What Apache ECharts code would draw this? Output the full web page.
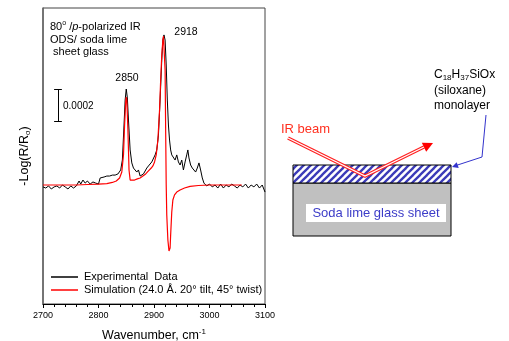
<!DOCTYPE html>
<html><head><meta charset="utf-8">
<script src="https://cdn.jsdelivr.net/npm/echarts@6/dist/echarts.min.js"></script>
<style>html,body{margin:0;padding:0;background:#fff}#c{width:509px;height:341px}</style>
</head><body><div id="c"></div>
<script>
// -Log(R/R0) values in units of 1e-4 (absorbance x 10^4), relative baseline
const expWavenumber = [2700,2705,2710,2715,2720,2725,2730,2735,2740,2745,2750,2755,2760,2765,2768,2772,2776,2780,2785,2790,2795,2800,2803,2806,2810,2815,2820,2825,2830,2835,2840,2843,2846,2848,2850,2852,2854,2857,2860,2863,2866,2869,2872,2875,2878,2881,2884,2887,2890,2893,2896,2899,2902,2905,2908,2911,2914,2916,2918,2920,2922,2924,2926,2928,2930,2932,2935,2938,2941,2944,2947,2950,2953,2956,2959,2961,2963,2966,2969,2972,2975,2978,2981,2984,2987,2990,2995,3000,3005,3010,3015,3020,3025,3030,3035,3040,3045,3050,3055,3060,3065,3070,3075,3080,3085,3090,3095,3098,3100];
const expAbs = [-0.12,-0.19,-0.06,-0.25,-0.12,-0.06,-0.19,0,-0.12,-0.25,-0.06,-0.19,-0.06,0.25,0.06,0.31,0.12,0.25,0.06,0.19,0.12,0.06,0.44,0.56,0.5,0.56,0.56,0.62,0.62,0.69,0.94,1.56,3.75,5.31,6.0,5.44,4.06,2.19,1.38,1.06,1.12,0.81,0.94,0.56,0.5,0.69,0.75,1.06,1.19,1.25,1.44,1.56,1.88,2.19,3.12,5.31,7.81,9.06,9.38,9.06,7.5,5.31,3.75,2.81,2.19,1.88,2.0,1.56,1.88,1.44,1.25,1.56,0.94,1.44,1.88,2.19,1.69,1.25,1.06,0.94,0.81,1.06,1.38,0.94,0.44,0.12,-0.06,0.06,-0.12,0,-0.19,0.06,-0.19,0,-0.12,0.06,-0.06,-0.19,0,-0.12,0.06,-0.19,0,-0.12,0.06,-0.19,0,-0.06,-0.44];
const simWavenumber = [2700,2720,2740,2760,2780,2800,2815,2825,2832,2838,2842,2845,2847,2849,2850,2851,2853,2855,2857,2860,2865,2870,2875,2880,2885,2890,2895,2898,2901,2904,2907,2910,2912,2914,2916,2917,2918,2919,2920,2921,2922,2923,2925,2927,2928,2929,2930,2932,2934,2937,2941,2947,2955,2965,2980,3000,3030,3058];
const simAbs = [0,0,0,0,0.03,0.06,0.09,0.16,0.25,0.44,0.81,1.88,3.75,5.19,5.5,5.31,3.44,0.94,0.31,0.25,0.31,0.38,0.44,0.56,0.69,0.88,1.06,1.19,1.44,1.88,2.81,4.69,6.56,8.12,9.06,9.31,9.38,9.19,7.19,3.44,0,-1.88,-3.44,-4.12,-4.19,-3.94,-3.12,-1.69,-0.94,-0.62,-0.44,-0.31,-0.19,-0.09,-0.03,0,0,0];
const xTicks = [2700,2800,2900,3000,3100];
const scaleBarX = 2727, scaleBarLow = 4, scaleBarHigh = 6; // 0.0002 = 2 units
const peakLabels = ['2850','2918'];
const legendNames = ['Experimental  Data','Simulation (24.0 Å. 20° tilt, 45° twist)'];

const F = '"Liberation Sans", Arial, sans-serif';
const zip = (a,b)=>a.map((v,i)=>[v,b[i]]);

// hatch pattern
const pc = document.createElement('canvas');
pc.width = 7; pc.height = 7;
const g = pc.getContext('2d');
g.fillStyle = '#fff'; g.fillRect(0,0,7,7);
g.strokeStyle = '#3a3ab8'; g.lineWidth = 2.3;
[[-7,14,14,-7],[0,14,14,0],[-7,7,7,-7]].forEach(l=>{g.beginPath();g.moveTo(l[0],l[1]);g.lineTo(l[2],l[3]);g.stroke();});

const chart = echarts.init(document.getElementById('c'), null, {renderer:'canvas'});
chart.setOption({
  animation:false,
  backgroundColor:'#fff',
  grid:{left:43,right:244,top:8,bottom:37,show:true,borderColor:'#444',borderWidth:1,outerBoundsMode:'none',containLabel:false},
  legend:{
    orient:'vertical',left:46,top:266,itemWidth:27,itemHeight:1.5,itemGap:1,
    textStyle:{fontFamily:F,fontSize:11,color:'#000',padding:[0,0,0,1],lineHeight:12},
    data:legendNames.map(n=>({name:n,icon:'rect'}))
  },
  xAxis:{
    type:'value',min:xTicks[0],max:xTicks[xTicks.length-1],interval:100,
    name:'Wavenumber, cm{sup|-1}',nameLocation:'middle',nameGap:24,
    nameTextStyle:{fontFamily:F,fontSize:12.5,color:'#000',
      rich:{sup:{fontFamily:F,fontSize:8,padding:[0,0,8,0],color:'#000'}}},
    axisLine:{show:true,onZero:false,lineStyle:{color:'#000',width:1}},
    axisTick:{show:true,length:4,lineStyle:{color:'#000'}},
    minorTick:{show:true,splitNumber:5,length:3,lineStyle:{color:'#000'}},
    axisLabel:{fontFamily:F,fontSize:9,color:'#000',margin:7,formatter:v=>String(v)},
    splitLine:{show:false}
  },
  yAxis:{
    type:'value',min:-7.4375,max:11.0625,
    name:'-Log(R/R{sub|o})',nameLocation:'middle',nameGap:11,
    nameTextStyle:{fontFamily:F,fontSize:12.5,color:'#000',
      rich:{sub:{fontFamily:F,fontSize:8,padding:[7,0,0,0],color:'#000'}}},
    axisLine:{show:true,onZero:false,lineStyle:{color:'#666',width:1.5}},
    axisTick:{show:false},axisLabel:{show:false},splitLine:{show:false}
  },
  series:[
    {name:legendNames[0],type:'line',data:zip(expWavenumber,expAbs),symbol:'none',
     lineStyle:{color:'#000',width:1},itemStyle:{color:'#000'},
     markLine:{silent:true,symbol:'none',label:{show:false},lineStyle:{color:'#000',width:1,type:'solid'},
       data:[
         [{coord:[scaleBarX,scaleBarLow]},{coord:[scaleBarX,scaleBarHigh]}],
         [{coord:[scaleBarX-7,scaleBarLow]},{coord:[scaleBarX+7,scaleBarLow]}],
         [{coord:[scaleBarX-7,scaleBarHigh]},{coord:[scaleBarX+7,scaleBarHigh]}]
       ]}},
    {name:legendNames[1],type:'line',data:zip(simWavenumber,simAbs),symbol:'none',
     lineStyle:{color:'#f00',width:1.2},itemStyle:{color:'#f00'}}
  ],
  graphic:[
    {type:'text',left:50,top:20,style:{text:'80{sup|o} /{it|p}-polarized IR\nODS/ soda lime\n sheet glass',
      font:'11px '+F,fill:'#000',lineHeight:12.5,
      rich:{sup:{font:'7px '+F,fill:'#000',padding:[0,0,7,0]},it:{font:'italic 11px '+F,fill:'#000'}}}},
    {type:'text',x:127,y:78,style:{text:peakLabels[0],font:'10.5px '+F,fill:'#000',align:'center',verticalAlign:'middle'}},
    {type:'text',x:186,y:32,style:{text:peakLabels[1],font:'10.5px '+F,fill:'#000',align:'center',verticalAlign:'middle'}},
    {type:'text',x:63,y:106,style:{text:'0.0002',font:'10px '+F,fill:'#000',verticalAlign:'middle'}},
    // right diagram
    {type:'rect',shape:{x:293,y:183,width:158,height:53},style:{fill:'#c0c0c0',stroke:'#000',lineWidth:1}},
    {type:'rect',shape:{x:293,y:165,width:158,height:18},style:{fill:{image:pc,repeat:'repeat'},stroke:'#000',lineWidth:1}},
    {type:'rect',shape:{x:306,y:204,width:140,height:18},style:{fill:'#fff'}},
    {type:'text',x:376,y:213,style:{text:'Soda lime glass sheet',font:'13px '+F,fill:'#3c3cc8',align:'center',verticalAlign:'middle'}},
    {type:'text',x:281,y:129,style:{text:'IR beam',font:'13px '+F,fill:'#ff3020',verticalAlign:'middle'}},
    {type:'polyline',shape:{points:[[288,138],[365,176],[424,147]]},style:{stroke:'#ff2020',lineWidth:3.6,fill:null}},
    {type:'polyline',shape:{points:[[288,138],[365,176],[424,147]]},style:{stroke:'#fff',lineWidth:1.2,fill:null}},
    {type:'polygon',shape:{points:[[433,143],[426.2,151.8],[421.8,142.8]]},style:{fill:'#ff0000'}},
    {type:'text',left:434,top:67,style:{text:'C{s|18}H{s|37}SiOx\n(siloxane)\nmonolayer',font:'12px '+F,fill:'#000',lineHeight:15.5,
      rich:{s:{font:'8px '+F,fill:'#000',padding:[6,0,0,0]}}}},
    {type:'polyline',shape:{points:[[486,115],[482,157],[456,165.5]]},style:{stroke:'#3333cc',lineWidth:1,fill:null}},
    {type:'polygon',shape:{points:[[452,167],[458.7,167.9],[456.7,162.2]]},style:{fill:'#3333cc'}}
  ]
});
</script></body></html>
